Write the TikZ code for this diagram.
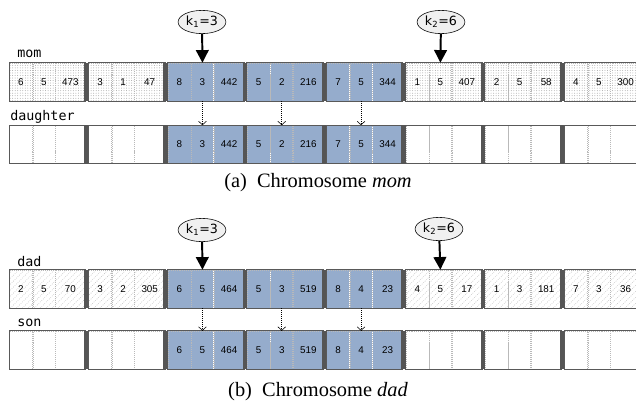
\documentclass[tikz,border=0pt]{standalone}
\usepackage{fontspec}
\setmainfont{Liberation Serif}
\setmonofont{DejaVu Sans Mono}
\newfontfamily\numfont{Liberation Sans}
\newfontfamily\cutfont{DejaVu Sans}
\usepackage{tikz}
\usetikzlibrary{positioning}
\usetikzlibrary{shapes.geometric}
\usetikzlibrary{arrows.meta}
\usetikzlibrary{patterns.meta}
\definecolor{geneblue}{RGB}{149,172,204}
\definecolor{barcolor}{RGB}{85,85,85}

\begin{document}
\begin{tikzpicture}[x=0.025cm,y=-0.025cm,
        cell/.style={rectangle,anchor=west,inner sep=0pt,minimum height=9.5mm,
            draw=gray!55,densely dotted,font=\numfont\fontsize{7}{8}\selectfont},
        dotcell/.style={pattern={Dots[distance=1.8pt,radius=0.35pt]},pattern color=gray!70},
        hatchcell/.style={pattern={Lines[angle=45,distance=3pt,line width=0.4pt]},pattern color=gray!50},
        genecell/.style={fill=geneblue},
        emptycell/.style={},
        frame/.style={draw=gray!70!black,line width=0.6pt},
        sepbar/.style={fill=barcolor},
        rowlabel/.style={anchor=west,inner sep=0pt,font=\ttfamily\fontsize{9.5}{11}\selectfont},
        cutpoint/.style={ellipse,draw,fill=gray!12,minimum width=34pt,minimum height=16.5pt,
            inner sep=0pt,font=\cutfont\fontsize{9}{10}\selectfont},
        cutarrow/.style={line width=1.4pt,-{Triangle[length=9pt,width=9pt]}},
        copyarrow/.style={densely dotted,-{Straight Barb[length=2.5pt,width=5.5pt]}},
        caption/.style={font=\fontsize{14.5}{17}\selectfont}]
    \useasboundingbox (0,0) rectangle (636,402);

    % (a) chromosome mom
    \node[rowlabel] (momlabel) at (17,54) {mom};
    \node[rowlabel] (daughterlabel) at (10,117) {daughter};
    \foreach \i/\a/\b/\c/\s in {1/6/5/473/dotcell, 2/3/1/47/dotcell, 3/8/3/442/genecell,
            4/5/2/216/genecell, 5/7/5/344/genecell, 6/1/5/407/dotcell, 7/2/5/58/dotcell, 8/4/5/300/dotcell}{
        \pgfmathsetmacro\bx{9+79.3*(\i-1)}
        \node[cell,\s,minimum width=5.75mm] (mom-\i-1) at (\bx,82) {\a};
        \node[cell,\s,minimum width=5.5mm,right=0pt of mom-\i-1] (mom-\i-2) {\b};
        \node[cell,\s,minimum width=7.5mm,right=0pt of mom-\i-2] (mom-\i-3) {\c};
        \draw[frame] (mom-\i-1.north west) rectangle (mom-\i-3.south east);
        \ifnum\i>1 \fill[sepbar] ([xshift=-1.07mm]mom-\i-1.north west) rectangle (mom-\i-1.south west); \fi
    }
    \foreach \i/\a/\b/\c/\s in {1/{}/{}/{}/emptycell, 2/{}/{}/{}/emptycell, 3/8/3/442/genecell,
            4/5/2/216/genecell, 5/7/5/344/genecell, 6/{}/{}/{}/emptycell, 7/{}/{}/{}/emptycell, 8/{}/{}/{}/emptycell}{
        \pgfmathsetmacro\bx{9+79.3*(\i-1)}
        \node[cell,\s,minimum width=5.75mm] (daughter-\i-1) at (\bx,144.5) {\a};
        \node[cell,\s,minimum width=5.5mm,right=0pt of daughter-\i-1] (daughter-\i-2) {\b};
        \node[cell,\s,minimum width=7.5mm,right=0pt of daughter-\i-2] (daughter-\i-3) {\c};
        \draw[frame] (daughter-\i-1.north west) rectangle (daughter-\i-3.south east);
        \ifnum\i>1 \fill[sepbar] ([xshift=-1.07mm]daughter-\i-1.north west) rectangle (daughter-\i-1.south west); \fi
    }
    \node[cutpoint] (k1mom) at (202,22) {k\textsubscript{1}=3};
    \node[cutpoint] (k2mom) at (441,22) {k\textsubscript{2}=6};
    \draw[cutarrow] (k1mom) -- (mom-3-2.north);
    \draw[cutarrow] (k2mom) -- (mom-6-2.north);
    \foreach \i in {3,4,5}
        \draw[copyarrow] (mom-\i-2.south) -- (daughter-\i-2.north);
    \node[caption] (capmom) at (318,183) {(a)\enspace Chromosome \textit{mom}};

    % (b) chromosome dad
    \node[rowlabel] (dadlabel) at (17,262) {dad};
    \node[rowlabel] (sonlabel) at (17,323) {son};
    \foreach \i/\a/\b/\c/\s in {1/2/5/70/hatchcell, 2/3/2/305/hatchcell, 3/6/5/464/genecell,
            4/5/3/519/genecell, 5/8/4/23/genecell, 6/4/5/17/hatchcell, 7/1/3/181/hatchcell, 8/7/3/36/hatchcell}{
        \pgfmathsetmacro\bx{9+79.3*(\i-1)}
        \node[cell,\s,minimum width=5.75mm] (dad-\i-1) at (\bx,289) {\a};
        \node[cell,\s,minimum width=5.5mm,right=0pt of dad-\i-1] (dad-\i-2) {\b};
        \node[cell,\s,minimum width=7.5mm,right=0pt of dad-\i-2] (dad-\i-3) {\c};
        \draw[frame] (dad-\i-1.north west) rectangle (dad-\i-3.south east);
        \ifnum\i>1 \fill[sepbar] ([xshift=-1.07mm]dad-\i-1.north west) rectangle (dad-\i-1.south west); \fi
    }
    \foreach \i/\a/\b/\c/\s in {1/{}/{}/{}/emptycell, 2/{}/{}/{}/emptycell, 3/6/5/464/genecell,
            4/5/3/519/genecell, 5/8/4/23/genecell, 6/{}/{}/{}/emptycell, 7/{}/{}/{}/emptycell, 8/{}/{}/{}/emptycell}{
        \pgfmathsetmacro\bx{9+79.3*(\i-1)}
        \node[cell,\s,minimum width=5.75mm] (son-\i-1) at (\bx,350) {\a};
        \node[cell,\s,minimum width=5.5mm,right=0pt of son-\i-1] (son-\i-2) {\b};
        \node[cell,\s,minimum width=7.5mm,right=0pt of son-\i-2] (son-\i-3) {\c};
        \draw[frame] (son-\i-1.north west) rectangle (son-\i-3.south east);
        \ifnum\i>1 \fill[sepbar] ([xshift=-1.07mm]son-\i-1.north west) rectangle (son-\i-1.south west); \fi
    }
    \node[cutpoint] (k1dad) at (202,230) {k\textsubscript{1}=3};
    \node[cutpoint] (k2dad) at (439,229) {k\textsubscript{2}=6};
    \draw[cutarrow] (k1dad) -- (dad-3-2.north);
    \draw[cutarrow] (k2dad) -- (dad-6-2.north);
    \foreach \i in {3,4,5}
        \draw[copyarrow] (dad-\i-2.south) -- (son-\i-2.north);
    \node[caption] (capdad) at (318,392) {(b)\enspace Chromosome \textit{dad}};
\end{tikzpicture}
\end{document}
